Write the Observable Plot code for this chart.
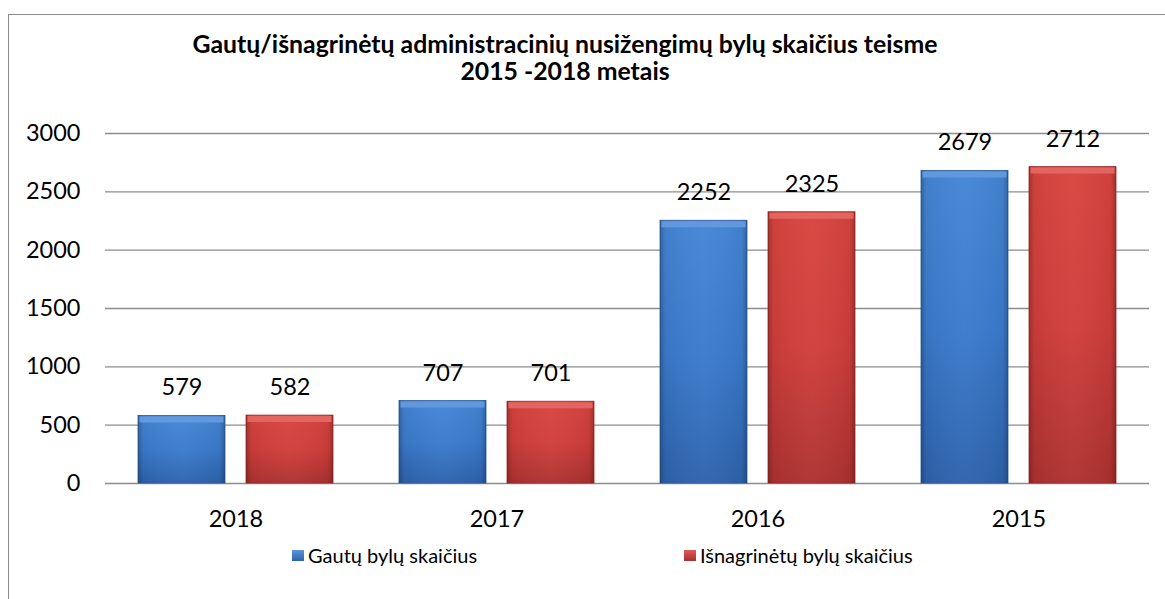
<!DOCTYPE html>
<html>
<head>
<meta charset="utf-8">
<script src="https://cdn.jsdelivr.net/npm/d3@7"></script>
<script src="https://cdn.jsdelivr.net/npm/@observablehq/plot@0.6"></script>
<style>
  html, body { margin: 0; padding: 0; background: #fff; }
  #wrap { position: relative; width: 1165px; height: 599px; overflow: hidden; font-family: Lato, "Open Sans", sans-serif; color: #000; }
  #frame { position: absolute; left: 8px; top: 14px; width: 1200px; height: 700px; border-left: 1.5px solid #8c8c8c; border-top: 1.5px solid #8c8c8c; }
  #title { position: absolute; left: 0; width: 1130px; top: 30px; text-align: center; font-weight: bold; font-size: 24.8px; line-height: 27px; }
  #chart { position: absolute; left: 0; top: 0; }
  #legend { position: absolute; top: 542px; left: 0; width: 1165px; height: 26px; font-size: 20px; }
  .li { position: absolute; display: flex; align-items: center; white-space: nowrap; height: 26px; }
  .sw { width: 12px; height: 11px; margin-right: 4px; }
</style>
</head>
<body>
<div id="wrap">
  <div id="frame"></div>
  <div id="title">Gautų/išnagrinėtų administracinių nusižengimų bylų skaičius teisme<br>2015 -2018 metais</div>
  <div id="chart"></div>
  <div id="legend"></div>
</div>
<script>
const years = ["2018", "2017", "2016", "2015"];
const seriesNames = ["Gautų bylų skaičius", "Išnagrinėtų bylų skaičius"];
const gautu = [579, 707, 2252, 2679];
const isnagrinetu = [582, 701, 2325, 2712];
const yTicks = [0, 500, 1000, 1500, 2000, 2500, 3000];

const data = [];
years.forEach((y, i) => {
  data.push({year: y, series: seriesNames[0], value: gautu[i]});
  data.push({year: y, series: seriesNames[1], value: isnagrinetu[i]});
});

const fills = ["url(#gradBlue)", "url(#gradRed)"];
const bevels = ["#6199de", "#e46560"];

const chart = Plot.plot({
  width: 1165,
  height: 543,
  marginLeft: 104,
  marginRight: 16,
  marginTop: 133,
  marginBottom: 60,
  style: {fontFamily: "Lato, 'Open Sans', sans-serif", fontSize: "23.5px", color: "#000", background: "transparent"},
  fx: {domain: years, padding: 0, label: null, axis: "bottom", tickSize: 0, tickPadding: 27},
  x: {domain: seriesNames, paddingInner: 0.194, paddingOuter: 0.3, axis: null},
  y: {domain: [0, 3000], ticks: yTicks, tickFormat: d3.format("d"), label: null, tickSize: 0, tickPadding: 25, grid: false},
  color: {domain: seriesNames, range: fills},
  marks: [
    Plot.gridY(yTicks, {stroke: "#8c8c8c", strokeOpacity: 1, strokeWidth: 1.3}),
    Plot.barY(data, {fx: "year", x: "series", y: "value", fill: "series", stroke: d => d.series === seriesNames[0] ? "#2c5b98" : "#9c2a2a", strokeWidth: 0.8}),
    Plot.barY(data, {fx: "year", x: "series", y: "value", fill: "url(#gradEdge)"}),
    Plot.tickY(data, {fx: "year", x: "series", y: "value", stroke: d => d.series === seriesNames[0] ? bevels[0] : bevels[1], strokeWidth: 6, dy: 3.5, inset: 1.5}),
    Plot.text(data, {fx: "year", x: "series", y: "value", text: d => String(d.value), dy: -28, fontSize: 23.5, fill: "#000"})
  ]
});

const defs = `
<defs>
  <linearGradient id="gradBlue" x1="0" y1="0" x2="0" y2="1">
    <stop offset="0" stop-color="#4586d6"/>
    <stop offset="0.5" stop-color="#3b7bcd"/>
    <stop offset="1" stop-color="#2d63ad"/>
  </linearGradient>
  <linearGradient id="gradRed" x1="0" y1="0" x2="0" y2="1">
    <stop offset="0" stop-color="#d9443f"/>
    <stop offset="0.5" stop-color="#d03e3b"/>
    <stop offset="1" stop-color="#ad3230"/>
  </linearGradient>
  <linearGradient id="gradEdge" x1="0" y1="0" x2="1" y2="0">
    <stop offset="0" stop-color="#000" stop-opacity="0.25"/>
    <stop offset="0.06" stop-color="#000" stop-opacity="0.05"/>
    <stop offset="0.5" stop-color="#fff" stop-opacity="0.03"/>
    <stop offset="0.94" stop-color="#000" stop-opacity="0.05"/>
    <stop offset="1" stop-color="#000" stop-opacity="0.25"/>
  </linearGradient>
</defs>`;
chart.insertAdjacentHTML("afterbegin", defs);
document.getElementById("chart").appendChild(chart);

// legend
const legend = document.getElementById("legend");
const legendPos = [292, 684];
const swatchColors = [["#5b95dc", "#2d62ab"], ["#e05a55", "#a83030"]];
seriesNames.forEach((name, i) => {
  const item = document.createElement("div");
  item.className = "li";
  item.style.left = legendPos[i] + "px";
  item.style.top = "0px";
  const sw = document.createElement("span");
  sw.className = "sw";
  sw.style.background = `linear-gradient(${swatchColors[i][0]}, ${swatchColors[i][1]})`;
  item.appendChild(sw);
  const t = document.createElement("span");
  t.textContent = name;
  item.appendChild(t);
  legend.appendChild(item);
});
</script>
</body>
</html>
